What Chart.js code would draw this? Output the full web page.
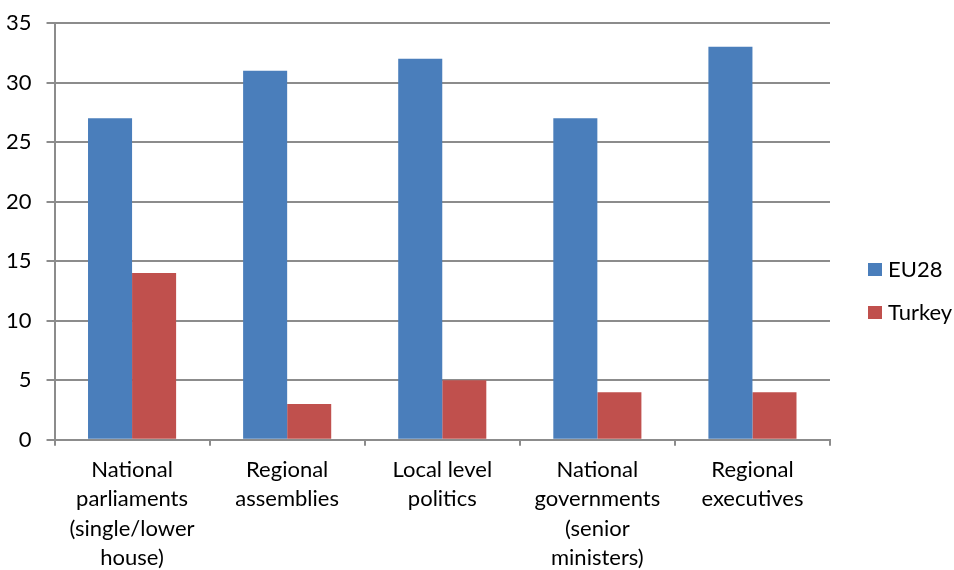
<!DOCTYPE html>
<html>
<head>
<meta charset="utf-8">
<script src="https://cdn.jsdelivr.net/npm/chart.js@4"></script>
<style>
  body { margin: 0; background: #fff; }
  #wrap { width: 954px; height: 570px; position: relative; }
</style>
</head>
<body>
<div id="wrap"><canvas id="myChart"></canvas></div>
<script>
// Dati del grafico
const categories = [
  ['National', 'parliaments', '(single/lower', 'house)'],
  ['Regional', 'assemblies'],
  ['Local level', 'politics'],
  ['National', 'governments', '(senior', 'ministers)'],
  ['Regional', 'executives']
];
const eu28 = [27, 31, 32, 27, 33];
const turkey = [14, 3, 5, 4, 4];
const yTicks = [0, 5, 10, 15, 20, 25, 30, 35];

const font = { family: 'Lato, "Open Sans", sans-serif', size: 22, lineHeight: 1.32 };
const gridColor = '#8c8c8c';

// Legenda disegnata a destra, in verticale
const sideLegend = {
  id: 'sideLegend',
  afterDraw(chart) {
    const c = chart.ctx;
    c.save();
    c.font = font.size + 'px ' + font.family;
    c.textBaseline = 'middle';
    c.textAlign = 'left';
    chart.data.datasets.forEach((ds, i) => {
      const y = 270 + i * 43;
      c.fillStyle = ds.backgroundColor;
      c.fillRect(868, y - 7, 14, 13);
      c.fillStyle = '#000';
      c.fillText(ds.label, 888, y);
    });
    c.restore();
  }
};

const ctx = document.getElementById('myChart').getContext('2d');
const myChart = new Chart(ctx, {
  type: 'bar',
  data: {
    labels: categories,
    datasets: [
      { label: 'EU28', data: eu28, backgroundColor: '#4a7ebb' },
      { label: 'Turkey', data: turkey, backgroundColor: '#c0504d' }
    ]
  },
  options: {
    responsive: true,
    maintainAspectRatio: false,
    animation: false,
    layout: { padding: { top: 23, left: -9, right: 124, bottom: -12 } },
    datasets: {
      bar: { categoryPercentage: 0.568, barPercentage: 1, borderWidth: 0 }
    },
    plugins: {
      tooltip: { enabled: false },
      legend: { display: false }
    },
    scales: {
      x: {
        grid: {
          offset: true,
          drawOnChartArea: false,
          color: gridColor,
          lineWidth: 2,
          tickLength: 6
        },
        border: { color: gridColor, width: 2 },
        ticks: { color: '#000', font: font, padding: 10, maxRotation: 0 }
      },
      y: {
        min: 0,
        max: 35,
        afterBuildTicks: axis => { axis.ticks = yTicks.map(v => ({ value: v })); },
        // niente spazio extra sopra il grafico, lo gestisce layout.padding
        afterFit: axis => { axis.paddingTop = 0; },
        grid: { color: gridColor, lineWidth: 2, tickLength: 8 },
        border: { color: gridColor, width: 2 },
        ticks: { color: '#000', font: font, padding: 15 }
      }
    }
  },
  plugins: [sideLegend]
});
</script>
</body>
</html>
